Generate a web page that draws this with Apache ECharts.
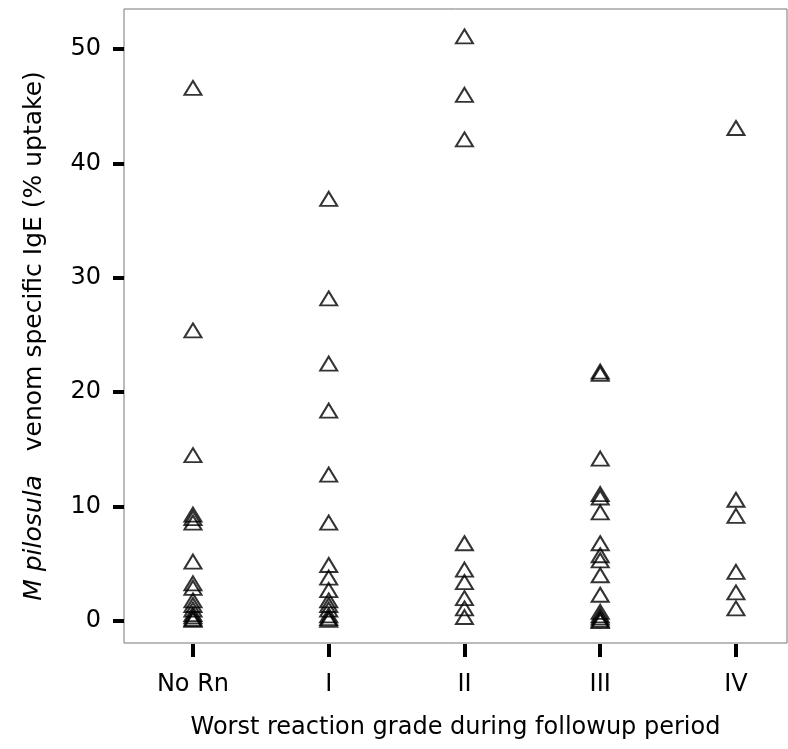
<!DOCTYPE html>
<html>
<head>
<meta charset="utf-8">
<script src="https://cdn.jsdelivr.net/npm/echarts@6/dist/echarts.min.js"></script>
<style>
html,body{margin:0;padding:0;background:#fff;}
#chart{width:788px;height:749px;}
</style>
</head>
<body>
<div id="chart"></div>
<script>
var categories = ['No Rn', 'I', 'II', 'III', 'IV'];
var noRn = [46.6, 25.4, 14.5, 9.3, 9.0, 8.6, 5.2, 3.3, 2.9, 1.8, 1.4, 1.0, 0.6, 0.4, 0.2, 0.1];
var gradeI = [36.9, 28.2, 22.5, 18.4, 12.8, 8.6, 4.9, 3.8, 2.7, 1.8, 1.4, 1.0, 0.5, 0.25, 0.1];
var gradeII = [51.1, 46.0, 42.1, 6.8, 4.5, 3.4, 2.0, 1.1, 0.35];
var gradeIII = [21.8, 21.6, 14.2, 11.1, 10.8, 9.5, 6.8, 5.75, 5.3, 4.0, 2.3, 0.8, 0.5, 0.3, 0.1, 0.0];
var gradeIV = [43.1, 10.6, 9.2, 4.3, 2.5, 1.1];
var yTicks = [0, 10, 20, 30, 40, 50];
var xTicks = [0, 1, 2, 3, 4];

var groups = [noRn, gradeI, gradeII, gradeIII, gradeIV];
var points = [];
groups.forEach(function (arr, i) {
  arr.forEach(function (v) { points.push([i, v]); });
});

var FONT = 'DejaVu Sans';
var chart = echarts.init(document.getElementById('chart'), null, {renderer: 'canvas'});
chart.setOption({
  animation: false,
  backgroundColor: '#fff',
  grid: {
    left: 124, top: 9, right: 1, bottom: 106,
    show: true, borderColor: '#777', borderWidth: 1, backgroundColor: 'transparent',
    containLabel: false, outerBoundsMode: 'none'
  },
  xAxis: {
    type: 'value', min: -0.508, max: 4.376,
    offset: 1,
    axisLine: {show: false, onZero: false},
    splitLine: {show: false},
    axisTick: {show: true, inside: false, customValues: xTicks, length: 13, lineStyle: {color: '#000', width: 4}},
    axisLabel: {
      customValues: xTicks, margin: 29, color: '#000', fontFamily: FONT, fontSize: 24,
      formatter: function (v) { return categories[Math.round(v)]; }
    },
    name: 'Worst reaction grade during followup period',
    nameLocation: 'middle', nameGap: 72,
    nameTextStyle: {color: '#000', fontFamily: FONT, fontSize: 24}
  },
  yAxis: {
    type: 'value', min: -1.92, max: 53.5,
    axisLine: {show: false, onZero: false},
    splitLine: {show: false},
    axisTick: {show: true, inside: false, customValues: yTicks, length: 11, lineStyle: {color: '#000', width: 4}},
    axisLabel: {customValues: yTicks, margin: 23, color: '#000', fontFamily: FONT, fontSize: 24},
    name: '{i|M pilosula}   venom specific IgE (% uptake)',
    nameLocation: 'middle', nameGap: 77,
    nameTextStyle: {
      color: '#000', fontFamily: FONT, fontSize: 25, padding: [0, 20, 0, 0],
      rich: {i: {fontStyle: 'italic', color: '#000', fontFamily: FONT, fontSize: 25}}
    }
  },
  series: [{
    type: 'scatter',
    data: points,
    symbol: 'triangle',
    symbolSize: [17, 14],
    itemStyle: {color: 'rgba(0,0,0,0)', borderColor: '#000', borderWidth: 2},
    emphasis: {disabled: true}
  }]
});
</script>
</body>
</html>
